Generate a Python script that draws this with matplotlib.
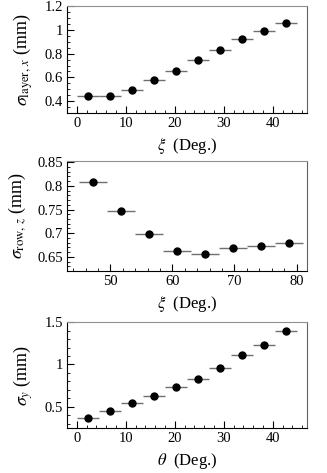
import numpy as np
import matplotlib
matplotlib.use("Agg")
import matplotlib.pyplot as plt
from matplotlib.ticker import MultipleLocator

plt.rcParams["font.family"] = "Liberation Serif"
plt.rcParams["mathtext.fontset"] = "stix"

# --- data ---
xi_low = [2.25, 6.75, 11.25, 15.75, 20.25, 24.75, 29.25, 33.75, 38.25, 42.75]
sig_layer_x = [0.44, 0.44, 0.49, 0.58, 0.655, 0.745, 0.83, 0.92, 0.99, 1.06]

xi_high = [47.25, 51.75, 56.25, 60.75, 65.25, 69.75, 74.25, 78.75]
sig_row_z = [0.808, 0.746, 0.699, 0.663, 0.655, 0.669, 0.673, 0.679]

theta = [2.25, 6.75, 11.25, 15.75, 20.25, 24.75, 29.25, 33.75, 38.25, 42.75]
sig_y = [0.37, 0.45, 0.54, 0.63, 0.73, 0.83, 0.96, 1.11, 1.23, 1.39]

bin_half = 2.25

fig = plt.figure(figsize=(3.27, 4.73), dpi=100)
ax1 = fig.add_axes([0.205, 0.761, 0.734, 0.226])
ax2 = fig.add_axes([0.205, 0.427, 0.734, 0.233])
ax3 = fig.add_axes([0.205, 0.095, 0.734, 0.224])

panels = [
    (ax1, xi_low, sig_layer_x, r"$\sigma_{\mathrm{layer},\,x}$ (mm)", r"$\xi$  (Deg.)",
     (-2, 47), (0.3, 1.2), 10, 2, 0.2, 0.05),
    (ax2, xi_high, sig_row_z, r"$\sigma_{\mathrm{row},\,z}$ (mm)", r"$\xi$  (Deg.)",
     (43, 81.7), (0.62, 0.853), 10, 2, 0.05, 0.01),
    (ax3, theta, sig_y, r"$\sigma_{y}$ (mm)", r"$\theta$  (Deg.)",
     (-2, 47), (0.25, 1.5), 10, 2, 0.5, 0.1),
]

for ax, x, y, ylab, xlab, xl, yl, xmaj, xmin, ymaj, ymin in panels:
    ax.errorbar(x, y, xerr=bin_half, fmt="o", color="black", ms=5,
                ecolor="#707070", elinewidth=1, capsize=0)
    ax.set_xlim(*xl)
    ax.set_ylim(*yl)
    ax.xaxis.set_major_locator(MultipleLocator(xmaj))
    ax.xaxis.set_minor_locator(MultipleLocator(xmin))
    ax.yaxis.set_major_locator(MultipleLocator(ymaj))
    ax.yaxis.set_minor_locator(MultipleLocator(ymin))
    ax.yaxis.set_major_formatter(plt.FuncFormatter(lambda v, p: f"{v:g}"))
    ax.tick_params(which="both", direction="in", top=False, right=False,
                   labelsize=10.5, pad=3)
    ax.tick_params(which="major", length=5)
    ax.tick_params(which="minor", length=2.5)
    ax.spines["top"].set_color("#909090")
    ax.spines["right"].set_color("#606060")
    ax.set_ylabel(ylab, fontsize=13, labelpad=7)
    ax.set_xlabel(xlab, fontsize=12)

fig.savefig("out.png", dpi=100)
